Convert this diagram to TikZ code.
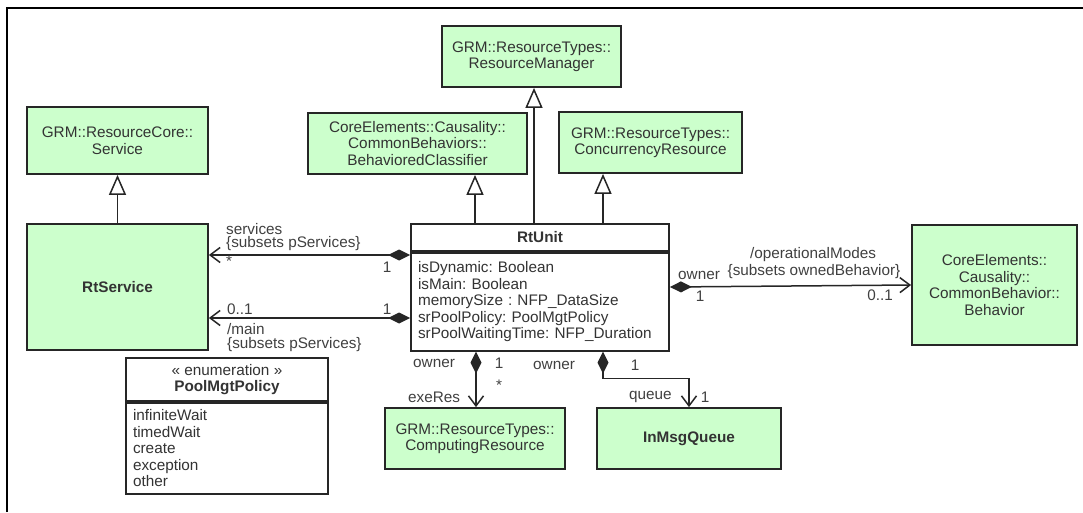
\documentclass[tikz,border=0pt]{standalone}
\usepackage{fontspec}
\setmainfont{Liberation Sans}
\usepackage{xcolor}
\usetikzlibrary{arrows.meta,positioning,shapes}
\definecolor{umlgreen}{RGB}{204,255,204}
\newcommand{\umlfont}{\fontsize{15.3}{16.5}\selectfont}
\frenchspacing

\begin{document}
\begin{tikzpicture}[x=1pt, y=-1pt,
    cls/.style={draw=black!85, line width=1.8pt, fill=umlgreen, align=center, font=\umlfont, text=black!80, inner sep=0pt},
    plain/.style={draw=black!85, line width=1.8pt, fill=white, font=\umlfont, text=black!80, inner sep=0pt},
    lbl/.style={font=\umlfont, text=black!75, inner sep=0pt},
    gen/.style={-{Triangle[open, length=20pt, width=17pt, fill=white]}, line width=1.5pt, draw=black!85},
    comp/.style={{Diamond[length=22pt, width=11pt]}-{Straight Barb[length=10pt, width=15pt]}, line width=1.5pt, draw=black!85}]
    \useasboundingbox (0,0) rectangle (1083,512);
    % 枠
    \draw[line width=2pt] (7,512) -- (7,8) -- (1083,8);

    % クラス
    \node[cls, minimum width=181pt, minimum height=67pt] (service) at (117.5,140.5) {GRM::ResourceCore::\\Service};
    \node[cls, minimum width=181pt, minimum height=126pt, font=\umlfont\bfseries] (rtservice) at (117.5,287) {RtService};
    \node[cls, minimum width=219pt, minimum height=61pt] (behclass) at (417.5,143.5) {CoreElements::Causality::\\CommonBehaviors::\\BehavioredClassifier};
    \node[cls, minimum width=179pt, minimum height=61pt] (resmgr) at (531.5,56.5) {GRM::ResourceTypes::\\ResourceManager};
    \node[cls, minimum width=183pt, minimum height=61pt] (concres) at (650.5,142.5) {GRM::ResourceTypes::\\ConcurrencyResource};
    \node[cls, minimum width=165pt, minimum height=120pt] (behavior) at (994.5,285) {CoreElements::\\Causality::\\CommonBehavior::\\Behavior};
    \node[cls, minimum width=180pt, minimum height=61pt] (compres) at (475,438.5) {GRM::ResourceTypes::\\ComputingResource};
    \node[cls, minimum width=184pt, minimum height=61pt, font=\umlfont\bfseries] (msgqueue) at (689,438.5) {InMsgQueue};

    % RtUnit
    \node[plain, minimum width=258pt, minimum height=27pt, font=\umlfont\bfseries] (rtunit) at (540,237.5) {RtUnit};
    \node[plain, anchor=north, text width=244pt, inner xsep=7pt, minimum height=98pt, align=left] (rtattr) at (rtunit.south)
        {isDynamic: Boolean\\isMain: Boolean\\memorySize : NFP\_DataSize\\srPoolPolicy: PoolMgtPolicy\\srPoolWaitingTime: NFP\_Duration};

    % 列挙型
    \node[plain, minimum width=202pt, minimum height=43pt, align=center] (pool) at (227,379.5) {« enumeration »\\\textbf{PoolMgtPolicy}};
    \node[plain, anchor=north, text width=188pt, inner xsep=7pt, minimum height=91pt, align=left] (poolvals) at (pool.south)
        {infiniteWait\\timedWait\\create\\exception\\other};

    % 汎化
    \draw[gen] (rtservice.north) -- (service.south);
    \draw[gen] (rtunit.north -| 475,0) -- (behclass.south -| 475,0);
    \draw[gen] (rtunit.north -| 534,0) -- (resmgr.south -| 534,0);
    \draw[gen] (rtunit.north -| 603,0) -- (concres.south -| 603,0);

    % コンポジション
    \draw[comp] (rtattr.west |- 0,255) -- (rtservice.east |- 0,255);
    \draw[comp] (rtattr.west |- 0,318) -- (rtservice.east |- 0,318);
    \draw[comp] (rtattr.east |- 0,287) -- (behavior.west |- 0,285);
    \draw[comp] (rtattr.south -| 476,0) -- (compres.north -| 476,0);
    \draw[comp] (rtattr.south -| 603,0) -- ++(0,27) -| (msgqueue.north -| 689,0);

    % ラベル
    \node[lbl, anchor=west] (svcname) at (226,229) {services};
    \node[lbl, anchor=west] (svcsub) at (226,244) {\{subsets pServices\}};
    \node[lbl] (svcmult) at (229,261) {*};
    \node[lbl] (svcone) at (387,267) {1};
    \node[lbl, anchor=west] (mainmult) at (227,309) {0..1};
    \node[lbl, anchor=west] (mainname) at (227,329) {/main};
    \node[lbl, anchor=west] (mainsub) at (227,345) {\{subsets pServices\}};
    \node[lbl] (mainone) at (387,309) {1};
    \node[lbl] (opname) at (813,255) {/operationalModes};
    \node[lbl] (opsub) at (814,272) {\{subsets ownedBehavior\}};
    \node[lbl, anchor=west] (opowner) at (678,275) {owner};
    \node[lbl] (opone) at (700,296) {1};
    \node[lbl] (opmult) at (880,295) {0..1};
    \node[lbl, anchor=west] (exeowner) at (413,363) {owner};
    \node[lbl] (exeone) at (499,363) {1};
    \node[lbl] (exemult) at (499,385) {*};
    \node[lbl, anchor=west] (exename) at (408,397) {exeRes};
    \node[lbl, anchor=west] (qowner) at (533,365) {owner};
    \node[lbl] (qone) at (635,365) {1};
    \node[lbl, anchor=west] (qname) at (629,397) {queue};
    \node[lbl] (qmult) at (705,397) {1};
\end{tikzpicture}
\end{document}
